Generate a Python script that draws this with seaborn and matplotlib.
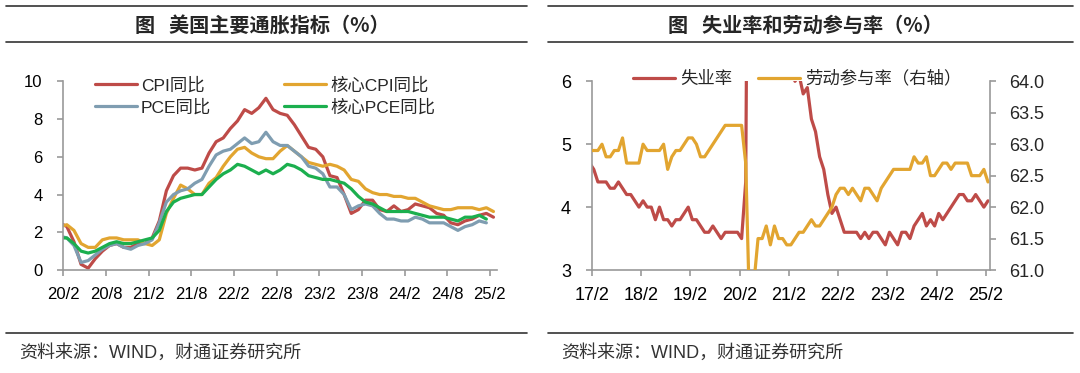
import numpy as np
import pandas as pd
import matplotlib
matplotlib.use("Agg")
import matplotlib.pyplot as plt
from matplotlib.lines import Line2D
import seaborn as sns

# ---- left panel: US inflation (monthly, 20/1 .. 25/2) ----
cpi = [2.5, 2.3, 1.5, 0.3, 0.1, 0.6, 1.0, 1.3, 1.4, 1.2, 1.2, 1.4,
       1.4, 1.7, 2.6, 4.2, 5.0, 5.4, 5.4, 5.3, 5.4, 6.2, 6.8, 7.0,
       7.5, 7.9, 8.5, 8.3, 8.6, 9.1, 8.5, 8.3, 8.2, 7.7, 7.1, 6.5,
       6.4, 6.0, 5.0, 4.9, 4.0, 3.0, 3.2, 3.7, 3.7, 3.2, 3.1, 3.4,
       3.1, 3.2, 3.5, 3.4, 3.3, 3.0, 2.9, 2.5, 2.4, 2.6, 2.7, 2.9,
       3.0, 2.8]
core_cpi = [2.3, 2.4, 2.1, 1.4, 1.2, 1.2, 1.6, 1.7, 1.7, 1.6, 1.6, 1.6,
            1.4, 1.3, 1.6, 3.0, 3.8, 4.5, 4.3, 4.0, 4.0, 4.6, 4.9, 5.5,
            6.0, 6.4, 6.5, 6.2, 6.0, 5.9, 5.9, 6.3, 6.6, 6.3, 6.0, 5.7,
            5.6, 5.5, 5.6, 5.5, 5.3, 4.8, 4.7, 4.3, 4.1, 4.0, 4.0, 3.9,
            3.9, 3.8, 3.8, 3.6, 3.4, 3.3, 3.2, 3.2, 3.3, 3.3, 3.3, 3.2,
            3.3, 3.1]
# PCE series end one month earlier (20/1 .. 25/1)
pce = [1.8, 1.7, 1.3, 0.4, 0.5, 0.8, 1.1, 1.3, 1.4, 1.2, 1.1, 1.3,
       1.4, 1.6, 2.5, 3.6, 4.0, 4.2, 4.3, 4.6, 4.8, 5.5, 6.1, 6.3,
       6.4, 6.7, 7.0, 6.7, 6.8, 7.3, 6.8, 6.6, 6.6, 6.3, 6.0, 5.5,
       5.4, 5.1, 4.4, 4.4, 4.0, 3.2, 3.4, 3.5, 3.4, 3.0, 2.7, 2.7,
       2.6, 2.6, 2.8, 2.7, 2.5, 2.5, 2.5, 2.3, 2.1, 2.3, 2.4, 2.6,
       2.5]
core_pce = [1.7, 1.7, 1.4, 1.0, 0.9, 1.0, 1.2, 1.4, 1.5, 1.4, 1.4, 1.5,
            1.6, 1.7, 2.1, 3.1, 3.6, 3.8, 3.9, 4.0, 4.0, 4.4, 4.8, 5.1,
            5.3, 5.6, 5.5, 5.3, 5.1, 5.3, 5.1, 5.3, 5.6, 5.5, 5.3, 5.0,
            4.9, 4.8, 4.8, 4.7, 4.6, 4.3, 3.9, 3.6, 3.5, 3.3, 3.1, 3.1,
            3.1, 3.1, 3.0, 2.9, 2.8, 2.8, 2.8, 2.7, 2.6, 2.8, 2.8, 2.9,
            2.7]
left_ticks = ["20/2", "20/8", "21/2", "21/8", "22/2", "22/8",
              "23/2", "23/8", "24/2", "24/8", "25/2"]

# ---- right panel: labour market (monthly, 17/1 .. 25/2) ----
unemp = [4.7, 4.6, 4.4, 4.4, 4.4, 4.3, 4.3, 4.4, 4.3, 4.2, 4.2, 4.1,
         4.0, 4.1, 4.0, 4.0, 3.8, 4.0, 3.8, 3.8, 3.7, 3.8, 3.8, 3.9,
         4.0, 3.8, 3.8, 3.7, 3.6, 3.6, 3.7, 3.6, 3.5, 3.6, 3.6, 3.6,
         3.6, 3.5, 4.4, 14.7, 13.3, 11.1, 10.2, 8.4, 7.9, 6.9, 6.7, 6.7,
         6.4, 6.2, 6.0, 6.1, 5.8, 5.9, 5.4, 5.2, 4.8, 4.6, 4.2, 3.9,
         4.0, 3.8, 3.6, 3.6, 3.6, 3.6, 3.5, 3.6, 3.5, 3.6, 3.6, 3.5,
         3.4, 3.6, 3.5, 3.4, 3.6, 3.6, 3.5, 3.7, 3.8, 3.9, 3.7, 3.8,
         3.7, 3.9, 3.8, 3.9, 4.0, 4.1, 4.2, 4.2, 4.1, 4.1, 4.2, 4.1,
         4.0, 4.1]
lfpr = [62.9, 62.9, 62.9, 63.0, 62.8, 62.8, 62.9, 62.9, 63.1, 62.7, 62.7, 62.7,
        62.7, 63.0, 62.9, 62.9, 62.9, 62.9, 63.0, 62.6, 62.8, 62.9, 62.9, 63.0,
        63.1, 63.1, 63.0, 62.8, 62.8, 62.9, 63.0, 63.1, 63.2, 63.3, 63.3, 63.3,
        63.3, 63.3, 62.7, 60.2, 60.8, 61.5, 61.5, 61.7, 61.4, 61.7, 61.5, 61.5,
        61.4, 61.4, 61.5, 61.6, 61.6, 61.7, 61.8, 61.7, 61.7, 61.8, 61.9, 62.0,
        62.2, 62.3, 62.3, 62.2, 62.3, 62.2, 62.1, 62.3, 62.3, 62.2, 62.1, 62.3,
        62.4, 62.5, 62.6, 62.6, 62.6, 62.6, 62.6, 62.8, 62.7, 62.7, 62.8, 62.5,
        62.5, 62.6, 62.7, 62.7, 62.6, 62.7, 62.7, 62.7, 62.7, 62.5, 62.5, 62.5,
        62.6, 62.4]
right_ticks = ["17/2", "18/2", "19/2", "20/2", "21/2", "22/2", "23/2", "24/2", "25/2"]

RED = "#BE4B48"
GOLD = "#E2A530"
BLUE = "#7F9DB1"
GREEN = "#1BAF4E"
AXC = "#999999"

sns.set_style("ticks")
plt.rcParams["font.family"] = ["Liberation Sans", "Noto Sans CJK SC"]
plt.rcParams["axes.unicode_minus"] = False

fig = plt.figure(figsize=(10.8, 3.73), dpi=100)


def month_pos(vals):
    # first value is the month before the first tick, points sit mid-month
    return np.arange(len(vals)) - 0.5


def style_axis(ax, size):
    for s in ["top", "right"]:
        ax.spines[s].set_visible(False)
    for s in ["left", "bottom"]:
        ax.spines[s].set_color(AXC)
        ax.spines[s].set_linewidth(1.2)
    ax.tick_params(axis="both", direction="out", length=4, width=1.2,
                   color=AXC, labelsize=size, labelcolor="black")
    ax.tick_params(axis="y", pad=11)
    ax.tick_params(axis="x", pad=8)


# ---- left chart ----
ax1 = fig.add_axes([0.0586, 0.2761, 0.4016, 0.5059])
lw = 2.3
sns.lineplot(x=month_pos(cpi), y=cpi, ax=ax1, color=RED, lw=lw)
sns.lineplot(x=month_pos(core_cpi), y=core_cpi, ax=ax1, color=GOLD, lw=lw)
sns.lineplot(x=month_pos(pce), y=pce, ax=ax1, color=BLUE, lw=lw)
sns.lineplot(x=month_pos(core_pce), y=core_pce, ax=ax1, color=GREEN, lw=lw)
ax1.set_xlim(0, 61)
ax1.set_ylim(0, 10)
ax1.set_xticks(np.arange(len(left_ticks)) * 6)
ax1.set_xticklabels(left_ticks)
ax1.set_yticks(np.arange(0, 11, 2))
style_axis(ax1, 12)
l = ax1.lines
ax1.legend([l[0], l[2], l[1], l[3]], ["CPI同比", "PCE同比", "核心CPI同比", "核心PCE同比"],
           ncol=2, loc="upper left", bbox_to_anchor=(95 / 1080, 1 - 77 / 373),
           bbox_transform=fig.transFigure, frameon=False, fontsize=12.5,
           borderpad=0, borderaxespad=0, handlelength=2.4, handletextpad=0.25,
           columnspacing=4.2, labelspacing=0.32)

# ---- right chart ----
ax2 = fig.add_axes([0.5479, 0.2761, 0.3688, 0.5059])
ax3 = ax2.twinx()
sns.lineplot(x=month_pos(unemp), y=unemp, ax=ax2, color=RED, lw=lw)
sns.lineplot(x=month_pos(lfpr), y=lfpr, ax=ax3, color=GOLD, lw=lw)
ax2.set_xlim(0, 97)
ax2.set_ylim(3, 6)
ax3.set_ylim(61, 64)
ax2.set_yticks([3, 4, 5, 6])
ax3.set_yticks(np.arange(61, 64.01, 0.5))
ax3.set_yticklabels([f"{v:.1f}" for v in np.arange(61, 64.01, 0.5)])
ax2.set_xticks(np.arange(len(right_ticks)) * 12)
ax2.set_xticklabels(right_ticks)
style_axis(ax2, 13)
for s in ["top", "left", "bottom"]:
    ax3.spines[s].set_visible(False)
ax3.spines["right"].set_color(AXC)
ax3.spines["right"].set_linewidth(1.2)
ax3.tick_params(axis="y", direction="out", length=4, width=1.2, color=AXC,
                labelsize=13, pad=10)
ax3.legend([ax2.lines[0], ax3.lines[0]], ["失业率", "劳动参与率（右轴）"],
           ncol=2, loc="upper left", bbox_to_anchor=(633 / 1080, 1 - 70 / 373),
           bbox_transform=fig.transFigure, frameon=False, fontsize=12.5,
           borderpad=0, borderaxespad=0, handlelength=2.4, handletextpad=0.3,
           columnspacing=1.5)

# ---- titles, rules, sources ----
for x0, x1, xc, title in [(6, 527, 262, "图   美国主要通胀指标（%）"),
                          (548, 1073, 805, "图   失业率和劳动参与率（%）")]:
    for y in [6, 42, 333]:
        fig.add_artist(Line2D([x0 / 1080, x1 / 1080], [1 - y / 373, 1 - y / 373],
                              transform=fig.transFigure, color="#333333", lw=1.2))
    fig.text(xc / 1080, 1 - 25 / 373, title, ha="center", va="center",
             fontsize=14.5, fontweight="bold", family=["Noto Sans CJK SC"])
    fig.text((x0 + 13) / 1080, 1 - 353 / 373, "资料来源：WIND，财通证券研究所",
             ha="left", va="center", fontsize=13, color="#333333",
             family=["Liberation Sans", "Noto Sans CJK SC"])

fig.savefig("out.png", dpi=100)
